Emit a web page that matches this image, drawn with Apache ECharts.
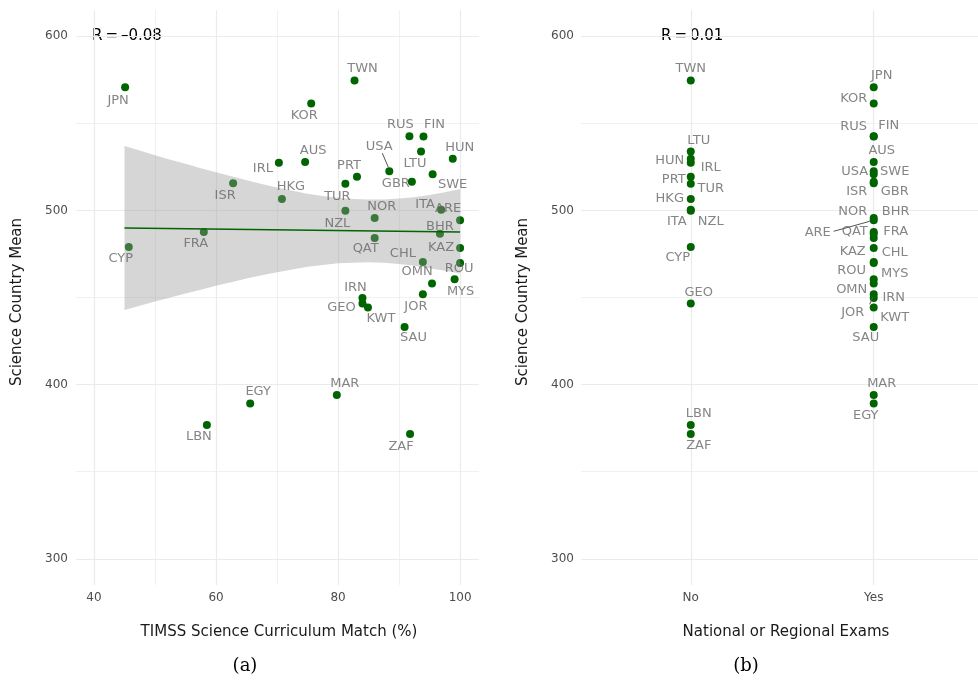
<!DOCTYPE html>
<html><head><meta charset="utf-8">
<script src="https://cdn.jsdelivr.net/npm/echarts@6/dist/echarts.min.js"></script>
<style>html,body{margin:0;padding:0;background:#fff}#c{width:978px;height:680px}</style>
</head><body><div id="c"></div>
<script>
// ---- data ----
const countries      = ['JPN','CYP','FRA','ISR','IRL','HKG','KOR','AUS','TWN','RUS','FIN','USA','LTU','HUN','PRT','GBR','SWE','TUR','NZL','NOR','ITA','ARE','BHR','QAT','CHL','KAZ','ROU','OMN','MYS','IRN','GEO','KWT','JOR','SAU','EGY','MAR','LBN','ZAF'];
const curriculumMatch= [45.1, 45.7, 58.0, 62.8, 70.3, 70.8, 75.6, 74.6, 82.7, 91.7, 94.0, 88.4, 93.6, 98.8, 83.1, 92.1, 95.5, 81.2, 81.2, 86.0, 96.9, 100.0, 96.7, 86.0, 93.9, 100.0, 100.0, 95.4, 99.1, 84.0, 84.0, 84.9, 93.9, 90.9, 65.6, 79.8, 58.5, 91.8];
const scienceMean    = [570.7, 479.0, 487.6, 515.6, 527.3, 506.5, 561.3, 527.7, 574.5, 542.6, 542.4, 522.5, 533.8, 529.6, 519.3, 516.4, 520.8, 515.3, 499.8, 495.6, 500.4, 494.3, 486.6, 484.1, 470.4, 478.4, 469.8, 458.0, 460.5, 449.7, 446.5, 444.2, 451.9, 433.1, 389.2, 394.0, 376.8, 371.6];
const nationalExams  = ['Yes','No','Yes','Yes','No','No','Yes','Yes','No','Yes','Yes','Yes','No','No','No','Yes','Yes','No','No','Yes','No','Yes','Yes','Yes','Yes','Yes','Yes','Yes','Yes','Yes','No','Yes','Yes','Yes','Yes','Yes','No','No'];
const examCategories = ['No','Yes'];

// fitted regression line and its confidence band
const fitX      = [45, 100];
const fitY      = [489.9, 487.6];
const bandX     = [45, 47.5, 50, 52.5, 55, 57.5, 60, 62.5, 65, 67.5, 70, 72.5, 75, 77.5, 80, 82.5, 85, 87.5, 90, 92.5, 95, 97.5, 100];
const bandUpper = [537.0, 534.3, 531.7, 529.1, 526.7, 524.2, 521.9, 519.6, 517.3, 515.2, 513.1, 511.3, 509.6, 508.3, 507.2, 506.5, 506.2, 506.3, 506.8, 507.6, 508.8, 510.4, 512.3];
const bandLower = [442.8, 445.2, 447.7, 450.0, 452.3, 454.5, 456.7, 458.8, 460.9, 462.8, 464.5, 466.1, 467.6, 468.7, 469.6, 470.0, 470.2, 469.9, 469.2, 468.2, 466.8, 465.3, 463.8];

const yTicks      = [300, 400, 500, 600];
const yMinorTicks = [350, 450, 550];
const xTicks      = [40, 60, 80, 100];
const xMinorTicks = [50, 70, 90];
const corrA = 'R\u2009=\u2009\u20130.08';
const corrB = 'R\u2009=\u20090.01';

// ---- label placement (pixel offsets from points) ----
const offA = {JPN:[-7,13],CYP:[-8,12],FRA:[-8,12],ISR:[-8,12],IRL:[-16,6],HKG:[9,-12],KOR:[-7,12],AUS:[8,-11],TWN:[8,-12],RUS:[-9,-12],FIN:[11,-12],USA:[-10,-25],LTU:[-6,12],HUN:[7,-11],PRT:[-8,-11],GBR:[-16,2],SWE:[20,10],TUR:[-8,13],NZL:[-8,13],NOR:[7,-11],ITA:[-16,-5],ARE:[-12,-12],BHR:[0,-7],QAT:[-9,11],CHL:[-20,-8],KAZ:[-19,0],ROU:[-1,6],OMN:[-15,-12],MYS:[6,12],IRN:[-7,-10],GEO:[-21,4],KWT:[13,11],JOR:[-7,12],SAU:[9,11],EGY:[8,-12],MAR:[8,-11],LBN:[-8,12],ZAF:[-9,13]};
const offB = {TWN:[0,-12],LTU:[8,-11],HUN:[-21,2],IRL:[20,5],PRT:[-17,3],TUR:[20,5],HKG:[-21,0],ITA:[-14,12],NZL:[20,11],CYP:[-13,11],GEO:[8,-11],LBN:[8,-11],ZAF:[8,12],JPN:[8,-12],KOR:[-20,-5],RUS:[-20,-10],FIN:[15,-11],AUS:[8,-11],USA:[-19,0],SWE:[21,-3],ISR:[-17,8],GBR:[21,10],NOR:[-21,-6],BHR:[22,-22],ARE:[-56,12],QAT:[-19,-6],FRA:[22,0],KAZ:[-21,4],CHL:[21,-9],ROU:[-22,8],MYS:[21,-6],OMN:[-22,6],IRN:[20,0],JOR:[-21,18],KWT:[21,10],SAU:[-8,11],MAR:[8,-11],EGY:[-8,12]};
const leadA = {USA:[-1,-4,-7,-18]};
const leadB = {ARE:[-4,1,-40,11], JOR:[-1,3,-4,10]};

const GREEN = '#006400';
const FONT = 'DejaVu Sans';
const gridColor = '#ebebeb';

const ptsA = countries.map((c,i)=>({name:c, value:[curriculumMatch[i], scienceMean[i]]}));
const ptsB = countries.map((c,i)=>({name:c, value:[examCategories.indexOf(nationalExams[i])+1, scienceMean[i]]}));

function labelData(pts, off){
  return pts.map(p=>({name:p.name, value:p.value, label:{offset:off[p.name]||[0,0]}}));
}
function leaderSeries(pts, lead, xi){
  const d = pts.filter(p=>lead[p.name]).map(p=>({value:p.value, seg:lead[p.name]}));
  return {
    type:'custom', xAxisIndex:xi, yAxisIndex:xi, z:6, silent:true,
    data: d.map(o=>o.value.concat(o.seg)),
    renderItem:(params, api)=>{
      const c = api.coord([api.value(0), api.value(1)]);
      return {type:'line', shape:{x1:c[0]+api.value(2), y1:c[1]+api.value(3), x2:c[0]+api.value(4), y2:c[1]+api.value(5)},
              style:{stroke:'#555', lineWidth:1}};
    }
  };
}
function gridLines(xMaj, xMin){
  const d = [];
  yTicks.forEach(v=>d.push({yAxis:v, lineStyle:{width:1.2}}));
  yMinorTicks.forEach(v=>d.push({yAxis:v, lineStyle:{width:0.7}}));
  xMaj.forEach(v=>d.push({xAxis:v, lineStyle:{width:1.2}}));
  xMin.forEach(v=>d.push({xAxis:v, lineStyle:{width:0.7}}));
  return {silent:true, z:1, symbol:'none', label:{show:false}, animation:false,
          lineStyle:{color:gridColor, type:'solid'}, emphasis:{disabled:true}, data:d};
}
const labelStyle = {show:true, position:'inside', formatter:'{b}', color:'#666666', fontSize:13, fontFamily:FONT};

const yAxisBase = {
  type:'value', min:285, max:615,
  axisLine:{show:false}, axisTick:{show:false}, splitLine:{show:false},
  axisLabel:{customValues:yTicks, color:'#4d4d4d', fontSize:12, fontFamily:FONT, margin:8}
};

const chart = echarts.init(document.getElementById('c'), null, {renderer:'canvas'});
chart.setOption({
  animation:false,
  backgroundColor:'#fff',
  grid:[
    {left:76, width:403, top:10, bottom:95},
    {left:581, right:0, top:10, bottom:95}
  ],
  xAxis:[
    {type:'value', gridIndex:0, min:37.05, max:103.1,
     axisLine:{show:false}, axisTick:{show:false}, splitLine:{show:false},
     axisLabel:{customValues:xTicks, color:'#4d4d4d', fontSize:12, fontFamily:FONT, margin:7}},
    {type:'value', gridIndex:1, min:0.4, max:2.57,
     axisLine:{show:false}, axisTick:{show:false}, splitLine:{show:false},
     axisLabel:{customValues:[1,2], formatter:v=>examCategories[Math.round(v)-1]||'', color:'#4d4d4d', fontSize:12, fontFamily:FONT, margin:7}}
  ],
  yAxis:[
    Object.assign({gridIndex:0}, yAxisBase),
    Object.assign({gridIndex:1}, yAxisBase, {axisLabel:Object.assign({}, yAxisBase.axisLabel, {margin:7})})
  ],
  series:[
    {type:'scatter', xAxisIndex:0, yAxisIndex:0, z:2, symbolSize:8, itemStyle:{color:GREEN, opacity:1},
     data:ptsA, markLine:gridLines(xTicks, xMinorTicks)},
    {type:'custom', xAxisIndex:0, yAxisIndex:0, z:3, silent:true,
     data:[0],
     renderItem:(params, api)=>{
       const pts = [];
       bandX.forEach((x,i)=>pts.push(api.coord([x, bandUpper[i]])));
       for(let i=bandX.length-1;i>=0;i--) pts.push(api.coord([bandX[i], bandLower[i]]));
       return {type:'polygon', shape:{points:pts}, style:{fill:'rgba(153,153,153,0.4)'}};
     }},
    {type:'line', xAxisIndex:0, yAxisIndex:0, z:4, symbol:'none', silent:true,
     lineStyle:{color:GREEN, width:1.5}, data:fitX.map((x,i)=>[x, fitY[i]])},
    {type:'scatter', xAxisIndex:0, yAxisIndex:0, z:5, symbolSize:0, silent:true,
     label:labelStyle, data:labelData(ptsA, offA)},
    leaderSeries(ptsA, leadA, 0),

    {type:'scatter', xAxisIndex:1, yAxisIndex:1, z:2, symbolSize:8, itemStyle:{color:GREEN, opacity:1},
     data:ptsB, markLine:gridLines([1,2], [])},
    {type:'scatter', xAxisIndex:1, yAxisIndex:1, z:5, symbolSize:0, silent:true,
     label:labelStyle, data:labelData(ptsB, offB)},
    leaderSeries(ptsB, leadB, 1)
  ],
  graphic:[
    {type:'text', left:92, top:29, style:{text:corrA, font:'15px "DejaVu Sans"', fill:'#000'}},
    {type:'text', left:661, top:29, style:{text:corrB, font:'15px "DejaVu Sans"', fill:'#000'}},
    {type:'text', x:17, y:302, rotation:Math.PI/2, style:{text:'Science Country Mean', font:'15px "DejaVu Sans"', fill:'#1a1a1a', align:'center', verticalAlign:'middle'}},
    {type:'text', x:523, y:302, rotation:Math.PI/2, style:{text:'Science Country Mean', font:'15px "DejaVu Sans"', fill:'#1a1a1a', align:'center', verticalAlign:'middle'}},
    {type:'text', x:279, y:632, style:{text:'TIMSS Science Curriculum Match (%)', font:'15px "DejaVu Sans"', fill:'#1a1a1a', align:'center', verticalAlign:'middle'}},
    {type:'text', x:786, y:632, style:{text:'National or Regional Exams', font:'15px "DejaVu Sans"', fill:'#1a1a1a', align:'center', verticalAlign:'middle'}},
    {type:'text', x:245, y:666, style:{text:'(a)', font:'18px "DejaVu Serif"', fill:'#000', align:'center', verticalAlign:'middle'}},
    {type:'text', x:746, y:666, style:{text:'(b)', font:'18px "DejaVu Serif"', fill:'#000', align:'center', verticalAlign:'middle'}}
  ]
});
</script>
</body></html>
